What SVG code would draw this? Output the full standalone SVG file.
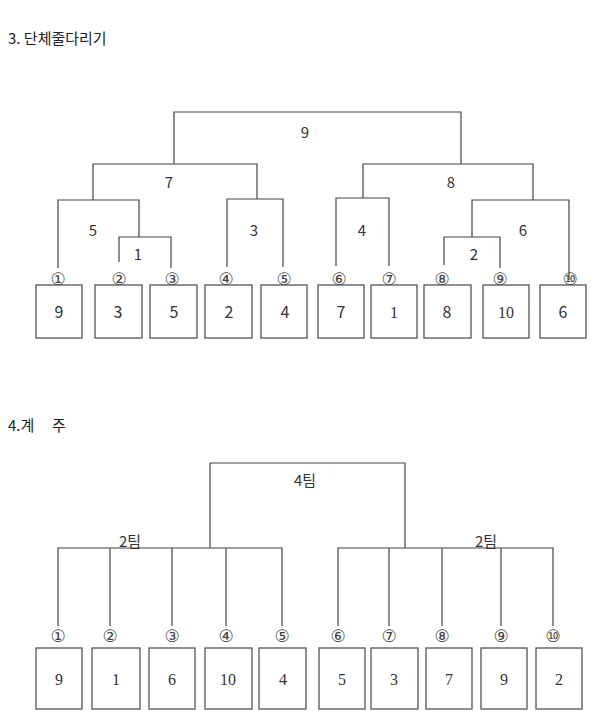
<svg xmlns="http://www.w3.org/2000/svg" width="600" height="711" viewBox="0 0 600 711">
<style>
.ln{stroke:#444;stroke-width:1.2;fill:none}
.bx{stroke:#555;stroke-width:1.3;fill:#fff}
.t{font-family:"Noto Sans CJK KR","Liberation Sans",sans-serif;fill:#333;text-anchor:middle}
.s{font-size:15px}
.c{font-family:"DejaVu Sans",sans-serif;font-size:17px;fill:#444}
.n{font-size:16px}
.sf{font-family:"Liberation Serif",serif}
.h{font-family:"Noto Sans CJK KR","Liberation Sans",sans-serif;font-size:15px;fill:#222}
</style>
<rect width="600" height="711" fill="#fff"/>
<text class="h" x="8" y="44">3. 단체줄다리기</text>
<text class="h" x="8" y="431">4.계</text><text class="h" x="52" y="431">주</text>
<g id="connectors">
<path class="ln" d="M174,164V112H461V164M93,200V164H257V199M58,268V200H139V237M119,262V237H171V268M227,267V199H283V267M336,266V198H389V266M363,198V164H533V200M472,237V200H569V280M444,265V237H500V268"/>
<path class="ln" d="M210,548V463H405V548M58,626V548H282V626M110,548V626M172,548V626M226,548V626M338,626V548H553V626M389,548V626M442,548V626M501,548V626"/>
</g>
<g id="labels">
<text class="t s" x="305" y="138">9</text>
<text class="t s" x="169" y="188">7</text>
<text class="t s" x="451" y="188">8</text>
<text class="t s" x="93" y="236">5</text>
<text class="t s" x="254" y="236">3</text>
<text class="t s" x="362" y="236">4</text>
<text class="t s" x="523" y="236">6</text>
<text class="t s" x="138" y="260">1</text>
<text class="t s" x="474" y="260">2</text>
<text class="t s" x="305" y="486">4팀</text>
<text class="t s" x="130" y="547">2팀</text>
<text class="t s" x="486" y="547">2팀</text>
</g>
<g id="circ-top" class="t c">
<text x="58" y="285">①</text><text x="119" y="285">②</text><text x="172" y="285">③</text><text x="226" y="285">④</text><text x="284" y="285">⑤</text>
<text x="339" y="285">⑥</text><text x="389" y="285">⑦</text><text x="442" y="285">⑧</text><text x="500" y="285">⑨</text><text x="570" y="285">⑩</text>
</g>
<g id="circ-bot" class="t c">
<text x="58" y="642">①</text><text x="110" y="642">②</text><text x="172" y="642">③</text><text x="226" y="642">④</text><text x="282" y="642">⑤</text>
<text x="338" y="642">⑥</text><text x="389" y="642">⑦</text><text x="442" y="642">⑧</text><text x="501" y="642">⑨</text><text x="553" y="642">⑩</text>
</g>
<g id="t1"><rect class="bx" x="36" y="285" width="46" height="53"/><text class="t n" x="59" y="318">9</text></g>
<g id="t2"><rect class="bx" x="95" y="285" width="47" height="53"/><text class="t n" x="118" y="318">3</text></g>
<g id="t3"><rect class="bx" x="150" y="285" width="47" height="53"/><text class="t n" x="174" y="318">5</text></g>
<g id="t4"><rect class="bx" x="205" y="285" width="47" height="53"/><text class="t n" x="229" y="318">2</text></g>
<g id="t5"><rect class="bx" x="261" y="285" width="46" height="53"/><text class="t n" x="285" y="318">4</text></g>
<g id="t6"><rect class="bx" x="318" y="285" width="46" height="53"/><text class="t n" x="341" y="318">7</text></g>
<g id="t7"><rect class="bx" x="371" y="285" width="46" height="53"/><text class="t n sf" x="394" y="318">1</text></g>
<g id="t8"><rect class="bx" x="424" y="285" width="47" height="53"/><text class="t n" x="447" y="318">8</text></g>
<g id="t9"><rect class="bx" x="483" y="285" width="46" height="53"/><text class="t n sf" x="506" y="318">10</text></g>
<g id="t10"><rect class="bx" x="540" y="285" width="46" height="53"/><text class="t n" x="563" y="318">6</text></g>
<g id="b1"><rect class="bx" x="36" y="648" width="46" height="61"/><text class="t n sf" x="59" y="685">9</text></g>
<g id="b2"><rect class="bx" x="92" y="648" width="48" height="61"/><text class="t n sf" x="116" y="685">1</text></g>
<g id="b3"><rect class="bx" x="149" y="648" width="46" height="61"/><text class="t n sf" x="172" y="685">6</text></g>
<g id="b4"><rect class="bx" x="205" y="648" width="47" height="61"/><text class="t n sf" x="228" y="685">10</text></g>
<g id="b5"><rect class="bx" x="259" y="648" width="47" height="61"/><text class="t n sf" x="283" y="685">4</text></g>
<g id="b6"><rect class="bx" x="319" y="648" width="46" height="61"/><text class="t n sf" x="342" y="685">5</text></g>
<g id="b7"><rect class="bx" x="371" y="648" width="47" height="61"/><text class="t n sf" x="394" y="685">3</text></g>
<g id="b8"><rect class="bx" x="426" y="648" width="46" height="61"/><text class="t n sf" x="449" y="685">7</text></g>
<g id="b9"><rect class="bx" x="481" y="648" width="46" height="61"/><text class="t n sf" x="504" y="685">9</text></g>
<g id="b10"><rect class="bx" x="536" y="648" width="46" height="61"/><text class="t n sf" x="559" y="685">2</text></g>
</svg>
